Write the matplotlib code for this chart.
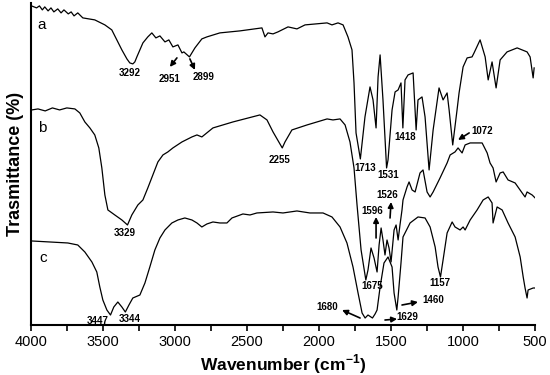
import matplotlib
matplotlib.use('Agg')
import matplotlib.pyplot as plt
from matplotlib.ticker import MultipleLocator

plt.rcParams['font.family'] = ['Liberation Sans', 'DejaVu Sans']
plt.rcParams['mathtext.fontset'] = 'custom'
plt.rcParams['mathtext.rm'] = 'Liberation Sans'
plt.rcParams['mathtext.bf'] = 'Liberation Sans:bold'

# spectrum a
wn_a = [3995, 3960, 3940, 3920, 3903, 3880, 3860, 3840, 3813, 3790,
        3770, 3740, 3720, 3700, 3674, 3639, 3556, 3486, 3438, 3403,
        3368, 3333, 3313, 3292, 3278, 3264, 3222, 3188, 3160, 3132,
        3104, 3069, 3042, 3014, 2979, 2951, 2938, 2899, 2861, 2813,
        2778, 2688, 2549, 2396, 2375, 2354, 2319, 2285, 2215, 2153,
        2097, 1944, 1910, 1868, 1833, 1799, 1771, 1757, 1743, 1713,
        1681, 1646, 1625, 1604, 1590, 1576, 1556, 1531, 1521, 1493,
        1472, 1451, 1431, 1418, 1403, 1382, 1347, 1326, 1313, 1285,
        1264, 1236, 1208, 1167, 1139, 1111, 1097, 1072, 1042, 1028,
        1000, 972, 938, 924, 882, 847, 826, 799, 771, 743,
        695, 625, 556, 535, 514, 507]
t_a = [319, 317, 319, 315, 318, 314, 317, 313, 316, 312,
       315, 311, 313, 309, 312, 307, 305, 300, 295, 285,
       275, 266, 262, 261, 263, 268, 282, 288, 292, 287,
       289, 283, 285, 278, 280, 272, 273, 268, 277, 286,
       288, 292, 294, 297, 288, 292, 291, 293, 298, 296,
       300, 302, 300, 302, 300, 288, 275, 242, 192, 166,
       208, 238, 225, 197, 248, 270, 225, 157, 165, 215,
       233, 235, 242, 197, 245, 250, 252, 195, 225, 228,
       208, 155, 195, 237, 225, 232, 215, 180, 215, 232,
       258, 267, 268, 272, 285, 268, 245, 263, 237, 265,
       273, 277, 273, 268, 247, 257]

# spectrum b
wn_b = [3993, 3950, 3900, 3850, 3800, 3750, 3694, 3660, 3625, 3590,
        3556, 3528, 3507, 3486, 3465, 3417, 3368, 3329, 3299, 3257,
        3222, 3188, 3153, 3118, 3083, 3049, 3014, 2951, 2882, 2847,
        2813, 2736, 2597, 2410, 2361, 2319, 2255, 2236, 2188, 2083,
        1944, 1903, 1854, 1819, 1785, 1757, 1736, 1708, 1675, 1660,
        1639, 1618, 1597, 1583, 1569, 1556, 1542, 1528, 1514, 1500,
        1479, 1465, 1451, 1438, 1424, 1417, 1389, 1375, 1354, 1333,
        1299, 1278, 1250, 1229, 1208, 1160, 1111, 1090, 1056, 1035,
        1007, 986, 951, 903, 868, 833, 813, 792, 771, 743,
        722, 688, 639, 590, 570, 556, 521, 500]
t_b = [215, 216, 214, 217, 215, 217, 216, 212, 203, 197,
       190, 177, 157, 130, 115, 110, 105, 100, 110, 120,
       125, 137, 150, 163, 170, 173, 177, 183, 188, 190,
       188, 197, 203, 210, 205, 193, 177, 183, 195, 200,
       206, 205, 206, 200, 183, 157, 120, 75, 45, 55,
       77, 67, 53, 80, 97, 85, 70, 85, 77, 63,
       95, 100, 85, 100, 115, 125, 138, 143, 135, 133,
       152, 155, 133, 128, 133, 147, 162, 170, 173, 177,
       172, 180, 182, 182, 182, 172, 162, 157, 143, 152,
       153, 145, 142, 132, 128, 133, 130, 127]

# spectrum c
wn_c = [3993, 3743, 3674, 3625, 3576, 3542, 3521, 3500, 3472, 3447,
        3424, 3396, 3368, 3344, 3319, 3292, 3243, 3208, 3174, 3139,
        3104, 3069, 3021, 2979, 2931, 2882, 2847, 2813, 2778, 2736,
        2688, 2639, 2604, 2528, 2479, 2431, 2319, 2250, 2153, 2063,
        1972, 1910, 1854, 1806, 1764, 1729, 1701, 1680, 1660, 1629,
        1611, 1597, 1576, 1549, 1521, 1493, 1479, 1460, 1451, 1431,
        1417, 1368, 1313, 1264, 1229, 1194, 1174, 1157, 1139, 1111,
        1076, 1056, 1021, 1000, 986, 951, 903, 861, 826, 799,
        792, 764, 729, 688, 639, 604, 583, 570, 556, 549,
        514, 500]
t_c = [84, 82, 80, 73, 63, 53, 38, 25, 15, 10,
       18, 23, 18, 13, 20, 27, 30, 42, 58, 75,
       87, 95, 102, 105, 107, 105, 102, 98, 101, 103,
       102, 102, 107, 111, 110, 112, 113, 112, 114, 112,
       112, 108, 98, 82, 58, 32, 12, 7, 10, 7,
       11, 15, 38, 62, 68, 58, 32, 15, 28, 62,
       88, 102, 108, 107, 98, 78, 58, 48, 65, 92,
       103, 98, 95, 98, 95, 105, 115, 125, 128, 122,
       102, 118, 115, 102, 88, 68, 48, 37, 27, 35,
       37, 37]

curve_names = ['a', 'b', 'c']
curve_name_pos = [(3924, 300), (3924, 197), (3917, 67)]

peak_labels = ['3292', '2951', '2899', '2255', '1713', '1531', '1418', '1072',
               '3329', '3447', '3344', '1596', '1526', '1675', '1157', '1460',
               '1680', '1629']
peak_label_pos = [(3313, 252), (3035, 246), (2799, 248), (2271, 165), (1681, 157),
                  (1521, 150), (1403, 188), (868, 194), (3347, 92), (3535, 4),
                  (3313, 6), (1632, 114), (1528, 130), (1632, 39), (1160, 42),
                  (1208, 25), (1944, 18), (1389, 8)]

# arrows: (tail, head)
arrows = [((2986, 267), (3035, 258)), ((2896, 266), (2861, 255)),
          ((958, 192), (1035, 185)), ((1604, 87), (1604, 108)),
          ((1507, 107), (1500, 123)), ((1715, 7), (1840, 15)),
          ((1542, 5), (1458, 6)), ((1424, 20), (1313, 23))]

fig = plt.figure(figsize=(5.5, 3.75), dpi=100)
ax = fig.add_axes([0.056, 0.1333, 0.917, 0.859])

for wn, t in [(wn_a, t_a), (wn_b, t_b), (wn_c, t_c)]:
    ax.plot(wn, t, color='black', lw=0.9)

for name, (x, y) in zip(curve_names, curve_name_pos):
    ax.text(x, y, name, fontsize=11, ha='center', va='center')

for lab, (x, y) in zip(peak_labels, peak_label_pos):
    ax.text(x, y, lab, fontsize=7, fontweight='bold', ha='center', va='center')

for tail, head in arrows:
    ax.annotate('', xy=head, xytext=tail,
                arrowprops=dict(arrowstyle='-|>', color='black', lw=1.2,
                                mutation_scale=8, shrinkA=0, shrinkB=0))

ax.set_xlim(4000, 500)
ax.set_ylim(0, 322)
ax.xaxis.set_major_locator(MultipleLocator(500))
ax.xaxis.set_minor_locator(MultipleLocator(250))
ax.tick_params(axis='x', which='both', direction='out', length=4, width=1.2,
               labelsize=10.5)
ax.set_yticks([])
ax.spines['top'].set_visible(False)
ax.spines['right'].set_visible(False)
ax.spines['left'].set_linewidth(1.5)
ax.spines['bottom'].set_linewidth(1.5)

ax.set_xlabel(r'Wavenumber (cm$^{\mathbf{-1}}$)', fontsize=12.5, fontweight='bold',
              labelpad=2)
ax.set_ylabel('Trasmittance (%)', fontsize=13, fontweight='bold', labelpad=5)

fig.savefig('out.png', dpi=100)
